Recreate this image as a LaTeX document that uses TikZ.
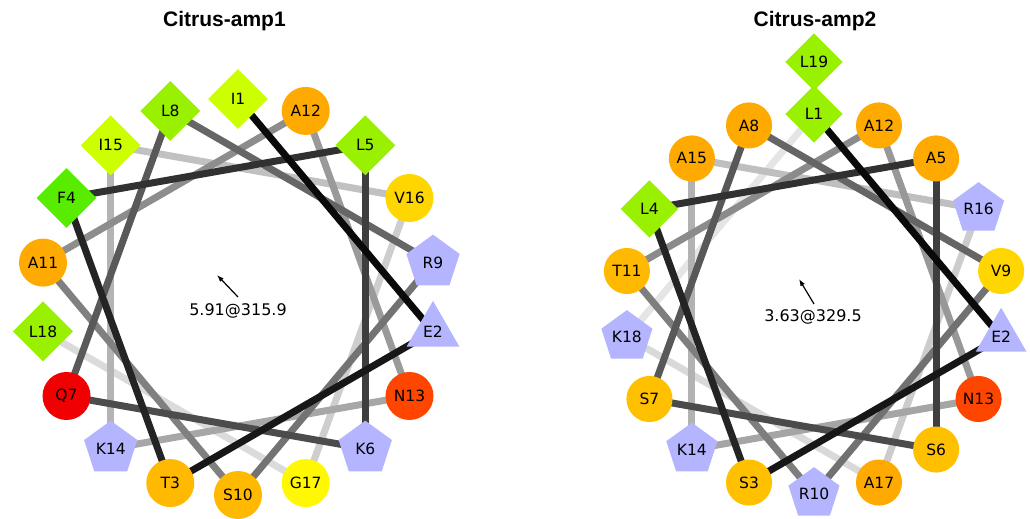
\documentclass[tikz,border=0pt]{standalone}
\usepackage{fontspec}
\setmainfont{DejaVu Sans}
\newfontfamily\titlefont{Liberation Sans}
\usetikzlibrary{shapes.geometric,arrows.meta,calc,backgrounds}

% residue classes
\definecolor{leu}{RGB}{153,240,0}
\definecolor{ile}{RGB}{204,255,0}
\definecolor{phe}{RGB}{88,236,0}
\definecolor{ala}{RGB}{255,170,0}
\definecolor{ser}{RGB}{255,192,0}
\definecolor{thr}{RGB}{255,185,0}
\definecolor{val}{RGB}{255,214,0}
\definecolor{gly}{RGB}{255,248,0}
\definecolor{gln}{RGB}{240,0,0}
\definecolor{asn}{RGB}{255,70,0}
\definecolor{charged}{RGB}{180,180,255}

\begin{document}
\begin{tikzpicture}[x=1pt,y=1pt,
  res/.style={inner sep=0pt, text=black, font=\fontsize{15.5}{16}\selectfont},
  hydres/.style={res, diamond, minimum width=\wf*60pt, minimum height=\wf*60pt},
  polres/.style={res, circle, minimum size=\wf*48pt},
  basres/.style={res, regular polygon, regular polygon sides=5, minimum size=\wf*56pt},
  acdres/.style={res, regular polygon, regular polygon sides=3, minimum size=\wf*61pt},
  bond/.style={line width=7pt},
  moment/.style={line width=1.2pt, -{Latex[length=7pt,width=5pt]}},
  title/.style={font=\titlefont\bfseries\fontsize{21}{21}\selectfont, anchor=base},
  momlabel/.style={font=\fontsize{16}{16}\selectfont, anchor=base}]

\useasboundingbox (0,0) rectangle (1030,519);

% ---------------- Citrus-amp1 ----------------
\def\wf{1}
\coordinate (c1) at (238,222);
\node[title] (t1) at (224.5,492) {Citrus-amp1};
\foreach \k/\aa/\sty/\col in {1/I/hydres/ile, 2/E/acdres/charged, 3/T/polres/thr,
    4/F/hydres/phe, 5/L/hydres/leu, 6/K/basres/charged, 7/Q/polres/gln, 8/L/hydres/leu,
    9/R/basres/charged, 10/S/polres/thr, 11/A/polres/ala, 12/A/polres/ala, 13/N/polres/asn,
    14/K/basres/charged, 15/I/hydres/ile, 16/V/polres/val, 17/G/polres/gly, 18/L/hydres/leu}{
  \pgfmathsetmacro\ang{90-100*(\k-1)}
  \node[\sty, fill=\col] (a\k) at ($(c1)+(\ang:198)$) {\aa\k};
}
\begin{scope}[on background layer]
  \foreach \k in {17,16,...,1}{
    \pgfmathtruncatemacro\j{\k+1}
    \pgfmathsetmacro\p{96-(\k-1)*82/16}
    \draw[bond, draw=black!\p] (a\k.center) -- (a\j.center);
  }
\end{scope}
\coordinate (m1) at (217,244);
\draw[moment] (c1) -- (m1);
\node[momlabel] (v1) at (238,203) {5.91@315.9};

% ---------------- Citrus-amp2 ----------------
\def\wf{0.96}
\coordinate (c2) at (814,215);
\node[title] (t2) at (815,492) {Citrus-amp2};
\foreach \k/\aa/\sty/\col in {1/L/hydres/leu, 2/E/acdres/charged, 3/S/polres/ser,
    4/L/hydres/leu, 5/A/polres/ala, 6/S/polres/ser, 7/S/polres/ser, 8/A/polres/ala,
    9/V/polres/val, 10/R/basres/charged, 11/T/polres/thr, 12/A/polres/ala, 13/N/polres/asn,
    14/K/basres/charged, 15/A/polres/ala, 16/R/basres/charged, 17/A/polres/ala,
    18/K/basres/charged}{
  \pgfmathsetmacro\ang{90-100*(\k-1)}
  \node[\sty, fill=\col] (b\k) at ($(c2)+(\ang:190)$) {\aa\k};
}
% residue 19 sits on the outer turn
\node[hydres, fill=leu] (b19) at ($(c2)+(90:242)$) {L19};
\coordinate (s19) at ($(c2)+(90:190)$);
\begin{scope}[on background layer]
  \draw[bond, draw=black!10] (b18.center) -- (s19);
  \foreach \k in {17,16,...,1}{
    \pgfmathtruncatemacro\j{\k+1}
    \pgfmathsetmacro\p{96-(\k-1)*86/17}
    \draw[bond, draw=black!\p] (b\k.center) -- (b\j.center);
  }
\end{scope}
\coordinate (m2) at (799,240);
\draw[moment] (c2) -- (m2);
\node[momlabel] (v2) at (813,197) {3.63@329.5};
\end{tikzpicture}
\end{document}
